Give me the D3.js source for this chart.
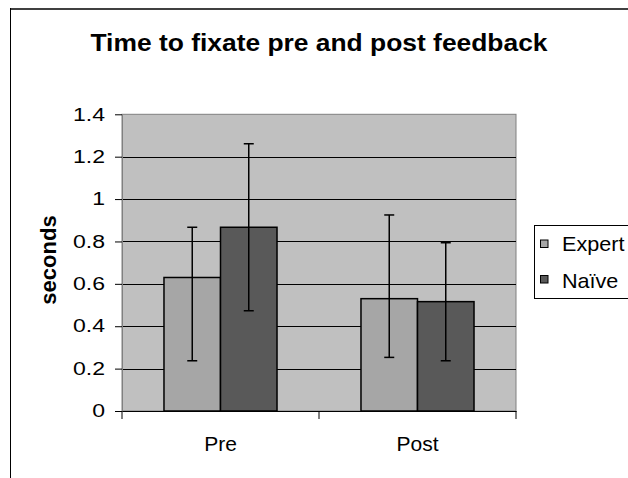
<!DOCTYPE html>
<html>
<head>
<meta charset="utf-8">
<script src="https://cdn.jsdelivr.net/npm/d3@7"></script>
<style>
  html, body { margin: 0; padding: 0; background: #fff; }
  svg { display: block; font-family: Arial, "Liberation Sans", sans-serif; }
</style>
</head>
<body>
<div id="chart"></div>
<script>
// data
const categories = ["Pre", "Post"];
const series = ["Expert", "Naïve"];
const expertMean = [0.63, 0.53];
const naiveMean  = [0.867, 0.516];
const expertHigh = [0.867, 0.925];
const expertLow  = [0.237, 0.253];
const naiveHigh  = [1.261, 0.794];
const naiveLow   = [0.473, 0.237];
const yTicks = [0, 0.2, 0.4, 0.6, 0.8, 1, 1.2, 1.4];
const colors = ["#a6a6a6", "#595959"];

const width = 628, height = 478;
const plot = { left: 122, right: 516, top: 114.3, bottom: 411 };
const font = "Arial, 'Liberation Sans', sans-serif";

const rows = [];
categories.forEach((c, i) => {
    rows.push({ cat: c, s: series[0], v: expertMean[i], lo: expertLow[i], hi: expertHigh[i] });
    rows.push({ cat: c, s: series[1], v: naiveMean[i], lo: naiveLow[i], hi: naiveHigh[i] });
});

const svg = d3.select("#chart").append("svg")
    .attr("width", width)
    .attr("height", height);

// chart frame (only top and left visible in the crop)
svg.append("line").attr("x1", 10).attr("x2", width).attr("y1", 9).attr("y2", 9)
    .attr("stroke", "#404040").attr("stroke-width", 2);
svg.append("line").attr("x1", 10.5).attr("x2", 10.5).attr("y1", 8).attr("y2", height)
    .attr("stroke", "#000").attr("stroke-width", 1);

const y = d3.scaleLinear().domain([0, 1.4]).range([plot.bottom, plot.top]);
const x0 = d3.scaleBand().domain(categories).range([plot.left, plot.right]);
const x1 = d3.scaleBand().domain(series).range([0, x0.bandwidth()])
    .paddingInner(0).paddingOuter(0.743);
const color = d3.scaleOrdinal().domain(series).range(colors);

// plot area
svg.append("rect")
    .attr("x", plot.left).attr("y", plot.top)
    .attr("width", plot.right - plot.left).attr("height", plot.bottom - plot.top)
    .attr("fill", "#c0c0c0").attr("stroke", "#808080").attr("stroke-width", 1);

// gridlines
svg.append("g").selectAll("line")
    .data(yTicks.filter(t => t > 0 && t < 1.4))
    .join("line")
    .attr("x1", plot.left).attr("x2", plot.right)
    .attr("y1", d => Math.round(y(d)) + 0.5).attr("y2", d => Math.round(y(d)) + 0.5)
    .attr("stroke", "#000").attr("stroke-width", 1);

// y axis (labels are a bit wide in the original, so stretch them)
const yAxis = svg.append("g")
    .attr("transform", `translate(${plot.left},0)`)
    .call(d3.axisLeft(y).tickValues(yTicks).tickFormat(d3.format("")).tickSizeInner(7).tickSizeOuter(0).tickPadding(10));
yAxis.select(".domain").attr("stroke", "#808080");
yAxis.selectAll(".tick line").attr("stroke", "#000");
yAxis.selectAll("text")
    .attr("font-size", 18).attr("fill", "#000").attr("font-family", font)
    .attr("x", 0)
    .attr("transform", "translate(-17,0) scale(1.28,1)");

// x axis
const xAxis = svg.append("g")
    .attr("transform", `translate(0,${plot.bottom})`)
    .call(d3.axisBottom(x0).tickSize(0).tickPadding(25));
xAxis.select(".domain").attr("stroke", "#000");
xAxis.selectAll("text").attr("font-size", 21).attr("fill", "#000").attr("font-family", font);
xAxis.selectAll(".sep")
    .data(d3.range(categories.length + 1))
    .join("line")
    .attr("x1", i => plot.left + i * x0.step()).attr("x2", i => plot.left + i * x0.step())
    .attr("y1", 0).attr("y2", 8)
    .attr("stroke", "#000");

// bars
svg.append("g").selectAll("rect")
    .data(rows)
    .join("rect")
    .attr("x", d => x0(d.cat) + x1(d.s))
    .attr("y", d => y(d.v))
    .attr("width", x1.bandwidth())
    .attr("height", d => y(0) - y(d.v))
    .attr("fill", d => color(d.s))
    .attr("stroke", "#000").attr("stroke-width", 1.5);

// error bars
const err = svg.append("g").attr("stroke", "#000").attr("stroke-width", 1.5);
const cx = d => x0(d.cat) + x1(d.s) + x1.bandwidth() / 2;
err.selectAll(".stem").data(rows).join("line").attr("class", "stem")
    .attr("x1", cx).attr("x2", cx)
    .attr("y1", d => y(d.lo)).attr("y2", d => y(d.hi));
err.selectAll(".capHi").data(rows).join("line").attr("class", "capHi")
    .attr("x1", d => cx(d) - 5).attr("x2", d => cx(d) + 5)
    .attr("y1", d => y(d.hi)).attr("y2", d => y(d.hi));
err.selectAll(".capLo").data(rows).join("line").attr("class", "capLo")
    .attr("x1", d => cx(d) - 5).attr("x2", d => cx(d) + 5)
    .attr("y1", d => y(d.lo)).attr("y2", d => y(d.lo));

// title
svg.append("text")
    .attr("transform", "translate(319,51) scale(1.1,1)")
    .attr("text-anchor", "middle")
    .attr("font-size", 24).attr("font-weight", "bold")
    .text("Time to fixate pre and post feedback");

// y axis title
svg.append("text")
    .attr("transform", `translate(56,260) rotate(-90)`)
    .attr("text-anchor", "middle")
    .attr("font-size", 22).attr("font-weight", "bold")
    .text("seconds");

// legend
const legend = svg.append("g").attr("transform", "translate(534.5,225.5)");
legend.append("rect")
    .attr("width", 110).attr("height", 73)
    .attr("fill", "#fff").attr("stroke", "#000").attr("stroke-width", 1);
const item = legend.selectAll(".item").data(series).join("g")
    .attr("class", "item")
    .attr("transform", (d, i) => `translate(0,${14.5 + i * 35.5})`);
item.append("rect")
    .attr("x", 6).attr("y", 0).attr("width", 7.5).attr("height", 7.5)
    .attr("fill", d => color(d)).attr("stroke", "#000").attr("stroke-width", 1);
item.append("text")
    .attr("transform", (d, i) => `translate(27.5,${10.7 + i * 1.8}) scale(1.08,1)`)
    .attr("font-size", 20)
    .text(d => d);
</script>
</body>
</html>
